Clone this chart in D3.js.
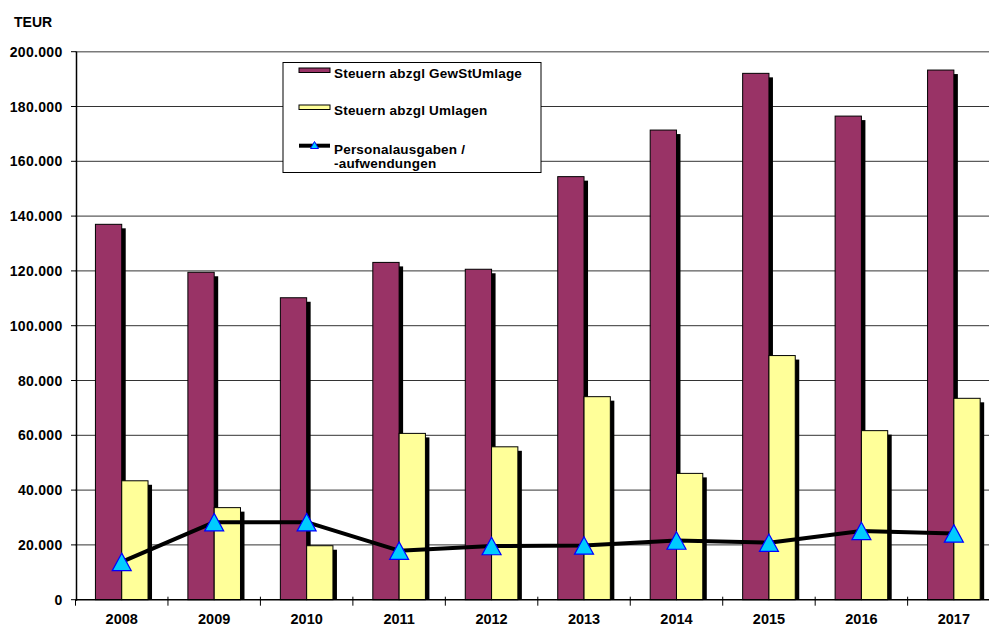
<!DOCTYPE html>
<html>
<head>
<meta charset="utf-8">
<script src="https://cdn.jsdelivr.net/npm/d3@7"></script>
<style>
  html, body { margin: 0; padding: 0; background: #fff; }
  svg { display: block; font-family: "Liberation Sans", Arial, sans-serif; font-weight: bold; }
</style>
</head>
<body>
<svg id="chart" width="989" height="626"></svg>
<script>
// Jahreswerte in TEUR
const years = ["2008", "2009", "2010", "2011", "2012", "2013", "2014", "2015", "2016", "2017"];
const steuernGewSt = [137000, 119500, 110200, 123100, 120600, 154400, 171400, 192100, 176500, 193300];
const steuernUmlagen = [43400, 33600, 19700, 60700, 55800, 74100, 46100, 89100, 61700, 73500];
const personal = [13800, 28300, 28300, 17900, 19600, 19800, 21600, 20800, 25100, 24200];
const yTicks = [0, 20000, 40000, 60000, 80000, 100000, 120000, 140000, 160000, 180000, 200000];

const seriesNames = ["Steuern abzgl GewStUmlage", "Steuern abzgl Umlagen"];
const lineName = ["Personalausgaben /", "-aufwendungen"];
const barColors = ["#993366", "#FFFF99"];

const svg = d3.select("#chart");
const W = 989, H = 626;
const plotLeft = 75.5, plotRight = 1000.1, plotTop = 51.7, plotBottom = 599.7;

const x = d3.scaleBand().domain(years).range([plotLeft, plotRight]).padding(0);
const xSub = d3.scaleBand().domain([0, 1]).range([0, x.bandwidth()]).paddingInner(0).paddingOuter(0.758);
const y = d3.scaleLinear().domain([0, 200000]).range([plotBottom, plotTop]);

const defs = svg.append("defs");
defs.append("filter").attr("id", "soft").attr("x", "-20%").attr("y", "-5%").attr("width", "140%").attr("height", "110%")
  .append("feGaussianBlur").attr("stdDeviation", 0.6);

const fmt = v => v === 0 ? "0" : d3.format(",")(v).replace(/,/g, ".");

// horizontal gridlines
svg.append("g").selectAll("line").data(yTicks.filter(d => d > 0)).join("line")
  .attr("x1", plotLeft).attr("x2", W)
  .attr("y1", d => y(d)).attr("y2", d => y(d))
  .attr("stroke", d => d === 200000 ? "#7a7a7a" : "#333")
  .attr("stroke-width", d => d === 200000 ? 1.5 : 1);

// bars with drop shadows
const seriesData = [steuernGewSt, steuernUmlagen];
const barG = svg.append("g");
seriesData.forEach((vals, s) => {
  barG.append("g").selectAll("rect").data(vals).join("rect")
    .attr("x", (d, i) => x(years[i]) + xSub(s) + 4)
    .attr("y", d => y(d) + 4)
    .attr("width", xSub.bandwidth())
    .attr("height", d => plotBottom - y(d) - 4)
    .attr("fill", "#000")
    .attr("filter", "url(#soft)");
});
seriesData.forEach((vals, s) => {
  barG.append("g").selectAll("rect").data(vals).join("rect")
    .attr("x", (d, i) => x(years[i]) + xSub(s))
    .attr("y", d => y(d))
    .attr("width", xSub.bandwidth())
    .attr("height", d => plotBottom - y(d))
    .attr("fill", barColors[s])
    .attr("stroke", "#000")
    .attr("stroke-width", 1);
});

// line series
const cx = (d, i) => x(years[i]) + x.bandwidth() / 2;
const line = d3.line().x(cx).y(d => y(d));
svg.append("path").datum(personal)
  .attr("d", line)
  .attr("fill", "none")
  .attr("stroke", "#000")
  .attr("stroke-width", 4)
  .attr("stroke-linejoin", "round");

const tri = (px, py, w, h) => `M${px},${py - h / 2}L${px + w / 2},${py + h / 2}L${px - w / 2},${py + h / 2}Z`;
svg.append("g").selectAll("path").data(personal).join("path")
  .attr("d", (d, i) => tri(cx(d, i), y(d), 19, 17.5))
  .attr("fill", "#00CCFF")
  .attr("stroke", "#0000FF")
  .attr("stroke-width", 1.2);

// y axis
const yAxis = svg.append("g");
yAxis.append("line").attr("x1", plotLeft + 1).attr("x2", plotLeft + 1).attr("y1", plotTop).attr("y2", plotBottom + 1)
  .attr("stroke", "#000").attr("stroke-width", 1.5);
yAxis.selectAll("line.tick").data(yTicks).join("line").attr("class", "tick")
  .attr("x1", 71).attr("x2", plotLeft + 1)
  .attr("y1", d => y(d)).attr("y2", d => y(d))
  .attr("stroke", "#000").attr("stroke-width", 1);
yAxis.selectAll("text").data(yTicks).join("text")
  .attr("x", 62.5).attr("y", d => y(d) + 5)
  .attr("text-anchor", "end")
  .attr("font-size", 14)
  .attr("letter-spacing", 0.3)
  .text(fmt);

svg.append("text").attr("x", 14).attr("y", 26.5).attr("font-size", 14).text("TEUR");

// x axis
const xAxis = svg.append("g");
xAxis.append("line").attr("x1", plotLeft).attr("x2", W).attr("y1", plotBottom).attr("y2", plotBottom)
  .attr("stroke", "#000").attr("stroke-width", 1.5);
xAxis.selectAll("line.tick").data(years.slice(1)).join("line").attr("class", "tick")
  .attr("x1", d => x(d)).attr("x2", d => x(d))
  .attr("y1", plotBottom - 3).attr("y2", plotBottom + 6)
  .attr("stroke", "#000").attr("stroke-width", 1);
xAxis.append("line").attr("x1", plotLeft).attr("x2", plotLeft).attr("y1", plotBottom).attr("y2", plotBottom + 6)
  .attr("stroke", "#000");
xAxis.selectAll("text").data(years).join("text")
  .attr("x", d => x(d) + x.bandwidth() / 2)
  .attr("y", 624)
  .attr("text-anchor", "middle")
  .attr("font-size", 14.5)
  .text(d => d);

// legend
const lg = svg.append("g");
lg.append("rect").attr("x", 283).attr("y", 62.5).attr("width", 258).attr("height", 110)
  .attr("fill", "#fff").attr("stroke", "#000").attr("stroke-width", 1);
seriesNames.forEach((name, s) => {
  const yy = [68, 105][s];
  lg.append("rect").attr("x", 299).attr("y", yy).attr("width", 31).attr("height", 4.5)
    .attr("fill", barColors[s]).attr("stroke", "#000").attr("stroke-width", 1);
  lg.append("text").attr("x", 334).attr("y", yy + 9.5).attr("font-size", 13.5).attr("letter-spacing", 0.2).text(name);
});
lg.append("line").attr("x1", 299).attr("x2", 330).attr("y1", 145.7).attr("y2", 145.7)
  .attr("stroke", "#000").attr("stroke-width", 4);
lg.append("path").attr("d", tri(314.5, 145, 8, 7)).attr("fill", "#00CCFF").attr("stroke", "#0000FF").attr("stroke-width", 1);
lineName.forEach((t, k) => {
  lg.append("text").attr("x", 334).attr("y", 154 + k * 14).attr("font-size", 13.5).attr("letter-spacing", 0.2).text(t);
});
</script>
</body>
</html>
